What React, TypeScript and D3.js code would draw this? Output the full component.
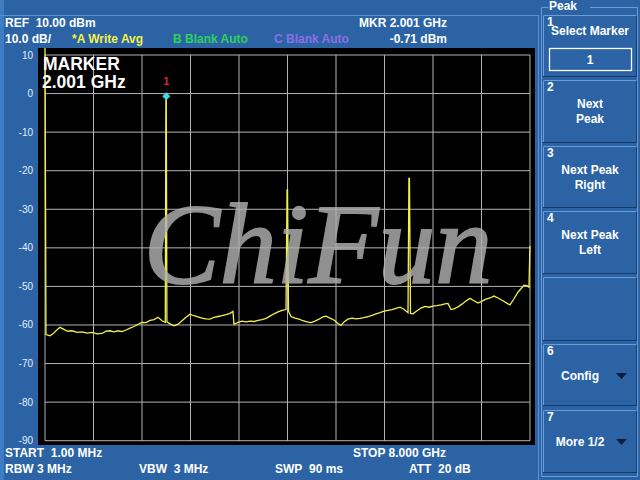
import * as d3 from "d3";
import React from "react";

// trace readings: [frequency GHz, level dBm]
const traceA: [number, number][] = [
  [0.001, 12], [0.017, -62.5], [0.083, -62.8], [0.133, -62.3], [0.182, -61.5],
  [0.248, -60.6], [0.298, -61.0], [0.364, -61.6], [0.446, -61.5], [0.529, -61.9],
  [0.611, -61.8], [0.694, -62.1], [0.776, -61.9], [0.859, -62.3], [0.941, -62.2],
  [1.007, -61.6], [1.073, -61.5], [1.139, -61.8], [1.205, -61.5], [1.271, -61.7],
  [1.337, -61.3], [1.403, -60.8], [1.469, -60.4], [1.535, -59.8], [1.601, -59.3],
  [1.667, -59.4], [1.733, -58.8], [1.799, -58.6], [1.865, -58.0], [1.931, -58.9],
  [1.985, -59.3], [1.995, -0.71], [2.001, -0.71], [2.012, -59.2], [2.063, -59.7],
  [2.129, -60.2], [2.195, -59.8], [2.261, -58.9], [2.326, -58.0], [2.392, -57.2],
  [2.458, -57.6], [2.524, -57.9], [2.590, -58.2], [2.656, -58.4], [2.722, -58.5],
  [2.788, -58.0], [2.854, -57.8], [2.920, -57.6], [2.986, -57.3], [3.052, -57.0],
  [3.101, -56.5], [3.118, -59.8], [3.184, -59.3], [3.250, -59.0], [3.316, -59.2],
  [3.382, -59.0], [3.448, -59.1], [3.514, -58.8], [3.580, -58.6], [3.646, -58.3],
  [3.712, -57.7], [3.778, -57.1], [3.844, -56.6], [3.910, -56.2], [3.976, -56.0],
  [3.993, -25.0], [4.001, -25.0], [4.017, -56.4], [4.058, -57.8], [4.124, -58.2],
  [4.190, -58.5], [4.256, -58.9], [4.322, -59.2], [4.388, -59.4], [4.454, -59.0],
  [4.520, -58.5], [4.586, -57.9], [4.635, -57.7], [4.701, -58.2], [4.767, -58.7],
  [4.833, -59.6], [4.883, -60.1], [4.932, -59.2], [4.998, -58.5], [5.064, -58.2],
  [5.130, -58.4], [5.196, -58.3], [5.262, -58.1], [5.328, -57.8], [5.394, -57.5],
  [5.460, -57.1], [5.526, -56.8], [5.592, -56.4], [5.658, -56.2], [5.724, -56.0],
  [5.790, -55.7], [5.856, -55.4], [5.922, -55.9], [5.988, -56.8], [6.003, -22.0],
  [6.012, -22.0], [6.029, -57.0], [6.070, -57.1], [6.136, -56.3], [6.202, -55.6],
  [6.268, -55.2], [6.334, -55.4], [6.400, -55.1], [6.466, -55.0], [6.532, -54.8],
  [6.598, -54.5], [6.647, -54.4], [6.697, -56.0], [6.746, -55.8], [6.812, -55.3],
  [6.878, -54.6], [6.944, -53.8], [7.010, -53.1], [7.076, -53.7], [7.142, -54.3],
  [7.208, -53.8], [7.274, -53.3], [7.340, -53.0], [7.406, -52.5], [7.472, -53.0],
  [7.538, -53.6], [7.604, -54.2], [7.670, -54.8], [7.736, -53.2], [7.802, -51.5],
  [7.851, -50.6], [7.901, -49.7], [7.950, -49.8], [7.983, -50.2], [7.999, -39.5],
];

const yTicks = [10, 0, -10, -20, -30, -40, -50, -60, -70, -80, -90];
const startGHz = 0.001;
const stopGHz = 8.0;
const markerGHz = 2.001;
const markerDbm = -0.71;

const headerLeft = ["REF\u00a0\u00a010.00 dBm", "10.0 dB/"];
const traceLabels = [
  { text: "*A Write Avg", color: "#f2f04a" },
  { text: "B Blank Auto", color: "#2fd25a" },
  { text: "C Blank Auto", color: "#8f6ee6" },
];
const headerRight = ["MKR 2.001 GHz", "-0.71 dBm"];
const footer1 = ["START\u00a0\u00a01.00 MHz", "STOP 8.000 GHz"];
const footer2 = ["RBW 3 MHz", "VBW\u00a0\u00a03 MHz", "SWP\u00a0\u00a090 ms", "ATT\u00a0\u00a020 dB"];

const softkeys = [
  { num: "1", lines: ["Select Marker"], top: 15, bottom: 76, box: "1" },
  { num: "2", lines: ["Next", "Peak"], top: 80, bottom: 142 },
  { num: "3", lines: ["Next Peak", "Right"], top: 146, bottom: 207 },
  { num: "4", lines: ["Next Peak", "Left"], top: 211, bottom: 273 },
  { num: "", lines: [], top: 277, bottom: 340 },
  { num: "6", lines: ["Config"], top: 344, bottom: 405, arrow: true },
  { num: "7", lines: ["More 1/2"], top: 410, bottom: 472, arrow: true },
];

const FONT = "'Liberation Sans', Arial, sans-serif";
const BG = "#2b63a5";

export default function App() {
  const plot = { left: 38, top: 48, right: 535, bottom: 445 };
  const x = d3.scaleLinear().domain([startGHz, stopGHz]).range([45, 530]);
  const y = d3.scaleLinear().domain([-90, 10]).range([440.7, 55]);

  const gridX = d3.range(11).map((i) => startGHz + (i * (stopGHz - startGHz)) / 10);

  const line = d3
    .line<[number, number]>()
    .x((d) => x(d[0]))
    .y((d) => Math.max(plot.top, y(d[1])));

  const mx = x(markerGHz);
  const my = y(markerDbm);

  return (
    <svg
      width={640}
      height={480}
      style={{ position: "fixed", left: 0, top: 0 }}
      fontFamily={FONT}
    >
      <rect width={640} height={480} fill={BG} />
      <rect x={0} y={0} width={4} height={480} fill="#3f7cc2" />
      <line x1={0} x2={538} y1={15.5} y2={15.5} stroke="#5d92d2" />
      <line x1={538.5} x2={538.5} y1={15} y2={480} stroke="#5d92d2" />

      {/* header */}
      <g fill="#ffffff" fontSize={12} fontWeight="bold">
        <text x={5} y={27}>{headerLeft[0]}</text>
        <text x={5} y={43}>{headerLeft[1]}</text>
        {traceLabels.map((t, i) => (
          <text key={t.text} x={72 + i * 101} y={43} fill={t.color}>
            {t.text}
          </text>
        ))}
        <text x={447} y={27} textAnchor="end">{headerRight[0]}</text>
        <text x={447} y={43} textAnchor="end">{headerRight[1]}</text>
      </g>

      {/* plot */}
      <rect
        x={plot.left}
        y={plot.top}
        width={plot.right - plot.left}
        height={plot.bottom - plot.top}
        fill="#000000"
      />
      <g stroke="#b4b4b4" strokeWidth={1}>
        {gridX.map((g, i) => (
          <line key={i} x1={x(g)} x2={x(g)} y1={y(10)} y2={y(-90)} />
        ))}
        {yTicks.map((t) => (
          <line key={t} x1={x(startGHz)} x2={x(stopGHz)} y1={y(t)} y2={y(t)} />
        ))}
      </g>
      <g fill="#e6eef8" fontSize={10} textAnchor="end">
        {yTicks.map((t) => (
          <text key={t} x={33} y={y(t) + 3.5}>
            {t}
          </text>
        ))}
      </g>

      <path d={line(traceA) || ""} fill="none" stroke="#f2f04a" strokeWidth={1.3} />

      {/* marker */}
      <path
        d={`M${mx},${my - 4}L${mx + 4},${my}L${mx},${my + 4}L${mx - 4},${my}Z`}
        fill="#3fd6e6"
      />
      <text x={mx} y={85} fill="#d42a2a" fontSize={11} fontWeight="bold" textAnchor="middle">
        1
      </text>
      <text x={43} y={70} fill="#ffffff" fontSize={17.5} fontWeight="bold">
        MARKER
      </text>
      <text x={42} y={88} fill="#ffffff" fontSize={17.5} fontWeight="bold">
        2.001 GHz
      </text>

      {/* watermark */}
      <text
        x={318}
        y={283}
        textAnchor="middle"
        fontFamily="'Liberation Serif', 'DejaVu Serif', serif"
        fontStyle="italic"
        fontSize={114}
        fill="#b0b0b0"
        stroke="#b0b0b0"
        strokeWidth={2}
        opacity={0.82}
      >
        ChiFun
      </text>

      {/* footer */}
      <g fill="#ffffff" fontSize={12} fontWeight="bold">
        <text x={5} y={457}>{footer1[0]}</text>
        <text x={353} y={457}>{footer1[1]}</text>
        {footer2.map((t, i) => (
          <text key={t} x={[5, 139, 275, 409][i]} y={473}>
            {t}
          </text>
        ))}
      </g>

      {/* softkey panel */}
      <path d="M548,7.5H541.5V476.5H637.5V7.5H590" fill="none" stroke="#6a9cd8" />
      <text x={549} y={10} fill="#ffffff" fontSize={12} fontWeight="bold">
        Peak
      </text>
      {softkeys.map((k) => (
        <g key={k.top}>
          <rect x={543.5} y={k.top + 0.5} width={93} height={k.bottom - k.top} fill={BG} stroke="#163a69" />
          <path
            d={`M543.5,${k.bottom}V${k.top + 0.5}H636.5`}
            fill="none"
            stroke="#6a9cd8"
          />
          <g fill="#ffffff" fontSize={12} fontWeight="bold">
            {k.num && (
              <text x={547} y={k.top + 11}>
                {k.num}
              </text>
            )}
            {k.box ? (
              <>
                <text x={590} y={k.top + 20} textAnchor="middle">
                  {k.lines[0]}
                </text>
                <rect x={549.5} y={48.5} width={82} height={22} fill="none" stroke="#ffffff" strokeWidth={1.3} />
                <text x={590} y={64} textAnchor="middle">
                  {k.box}
                </text>
              </>
            ) : k.arrow ? (
              <>
                <text x={580} y={k.top + 36} textAnchor="middle">
                  {k.lines[0]}
                </text>
                <path
                  d={`M616,${k.top + 29}H627L621.5,${k.top + 35}Z`}
                  fill="#0d1f3a"
                />
              </>
            ) : (
              k.lines.map((l, i) => (
                <text key={l} x={590} y={k.top + 28 + i * 15} textAnchor="middle">
                  {l}
                </text>
              ))
            )}
          </g>
        </g>
      ))}
    </svg>
  );
}
